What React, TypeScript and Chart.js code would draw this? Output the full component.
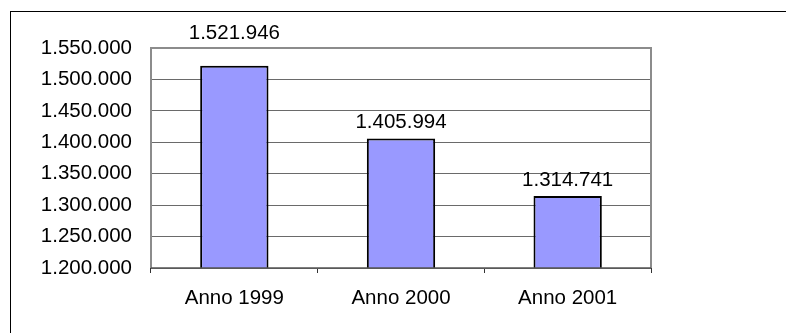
import React, { useEffect, useRef } from "react";
import { Chart, registerables } from "chart.js";

Chart.register(...registerables);

const categories = ["Anno 1999", "Anno 2000", "Anno 2001"];
const values = [1521946, 1405994, 1314741];
const yMin = 1200000;
const yMax = 1550000;
const yStep = 50000;

const FONT = "Liberation Sans, Arial, sans-serif";
const FONT_SIZE = 20.5;

const fmt = (v: number) => String(Math.round(v)).replace(/\B(?=(\d{3})+(?!\d))/g, ".");

const framePlugin = {
  id: "frame",
  beforeDraw(chart: any) {
    const ctx = chart.ctx;
    ctx.save();
    ctx.fillStyle = "#ffffff";
    ctx.fillRect(0, 0, chart.width, chart.height);
    ctx.strokeStyle = "#000000";
    ctx.lineWidth = 1;
    ctx.strokeRect(10.5, 11.5, chart.width + 20, chart.height + 20);
    ctx.restore();
  },
  afterDraw(chart: any) {
    const { ctx, chartArea } = chart;
    ctx.save();
    ctx.strokeStyle = "#8c8c8c";
    ctx.lineWidth = 2;
    ctx.beginPath();
    ctx.moveTo(chartArea.left, chartArea.bottom);
    ctx.lineTo(chartArea.left, chartArea.top);
    ctx.lineTo(chartArea.right, chartArea.top);
    ctx.lineTo(chartArea.right, chartArea.bottom);
    ctx.stroke();
    ctx.strokeStyle = "#555555";
    ctx.lineWidth = 1.5;
    ctx.beginPath();
    ctx.moveTo(chartArea.left, chartArea.bottom);
    ctx.lineTo(chartArea.right, chartArea.bottom);
    ctx.stroke();
    ctx.restore();
  },
};

const labelPlugin = {
  id: "barLabels",
  afterDatasetsDraw(chart: any) {
    const { ctx, chartArea } = chart;
    const meta = chart.getDatasetMeta(0);
    ctx.save();
    ctx.font = `${FONT_SIZE}px ${FONT}`;
    ctx.fillStyle = "#000000";
    ctx.textAlign = "center";
    ctx.textBaseline = "middle";
    meta.data.forEach((bar: any, i: number) => {
      let y = bar.y - 16;
      if (y - 12 < chartArea.top) y = chartArea.top - 15;
      ctx.fillText(fmt(values[i]), bar.x, y);
    });
    ctx.restore();
  },
};

export default function App() {
  const ref = useRef<HTMLCanvasElement | null>(null);

  useEffect(() => {
    document.body.style.margin = "0";
    const canvas = ref.current;
    if (!canvas) return;
    const chart = new Chart(canvas, {
      type: "bar",
      data: {
        labels: categories,
        datasets: [
          {
            data: values,
            backgroundColor: "#9999ff",
            borderColor: "#000000",
            borderWidth: 2,
            borderSkipped: false,
            categoryPercentage: 1,
            barPercentage: 0.41,
          },
        ],
      },
      options: {
        animation: false,
        responsive: false,
        maintainAspectRatio: false,
        layout: { padding: { left: 0, right: 135, top: 48, bottom: 0 } },
        plugins: {
          legend: { display: false },
          tooltip: { enabled: false },
          title: { display: false },
        },
        scales: {
          x: {
            offset: true,
            border: { display: false },
            grid: {
              offset: true,
              drawOnChartArea: false,
              drawTicks: true,
              tickLength: 5,
              color: "#333333",
              lineWidth: 1,
            },
            ticks: {
              color: "#000000",
              padding: 13,
              font: { family: FONT, size: FONT_SIZE },
              maxRotation: 0,
            },
            afterFit(scale: any) {
              scale.height = 65;
            },
          },
          y: {
            min: yMin,
            max: yMax,
            border: { display: false },
            grid: {
              drawTicks: false,
              color: "#6a6a6a",
              lineWidth: 1,
            },
            ticks: {
              stepSize: yStep,
              color: "#000000",
              padding: 19,
              font: { family: FONT, size: FONT_SIZE },
              callback: (v: any) => fmt(Number(v)),
            },
            afterFit(scale: any) {
              scale.width = 151;
            },
          },
        },
      },
      plugins: [framePlugin, labelPlugin],
    });
    return () => chart.destroy();
  }, []);

  return (
    <div style={{ width: 786, height: 333 }}>
      <canvas ref={ref} width={786} height={333} style={{ display: "block", width: 786, height: 333 }} />
    </div>
  );
}
